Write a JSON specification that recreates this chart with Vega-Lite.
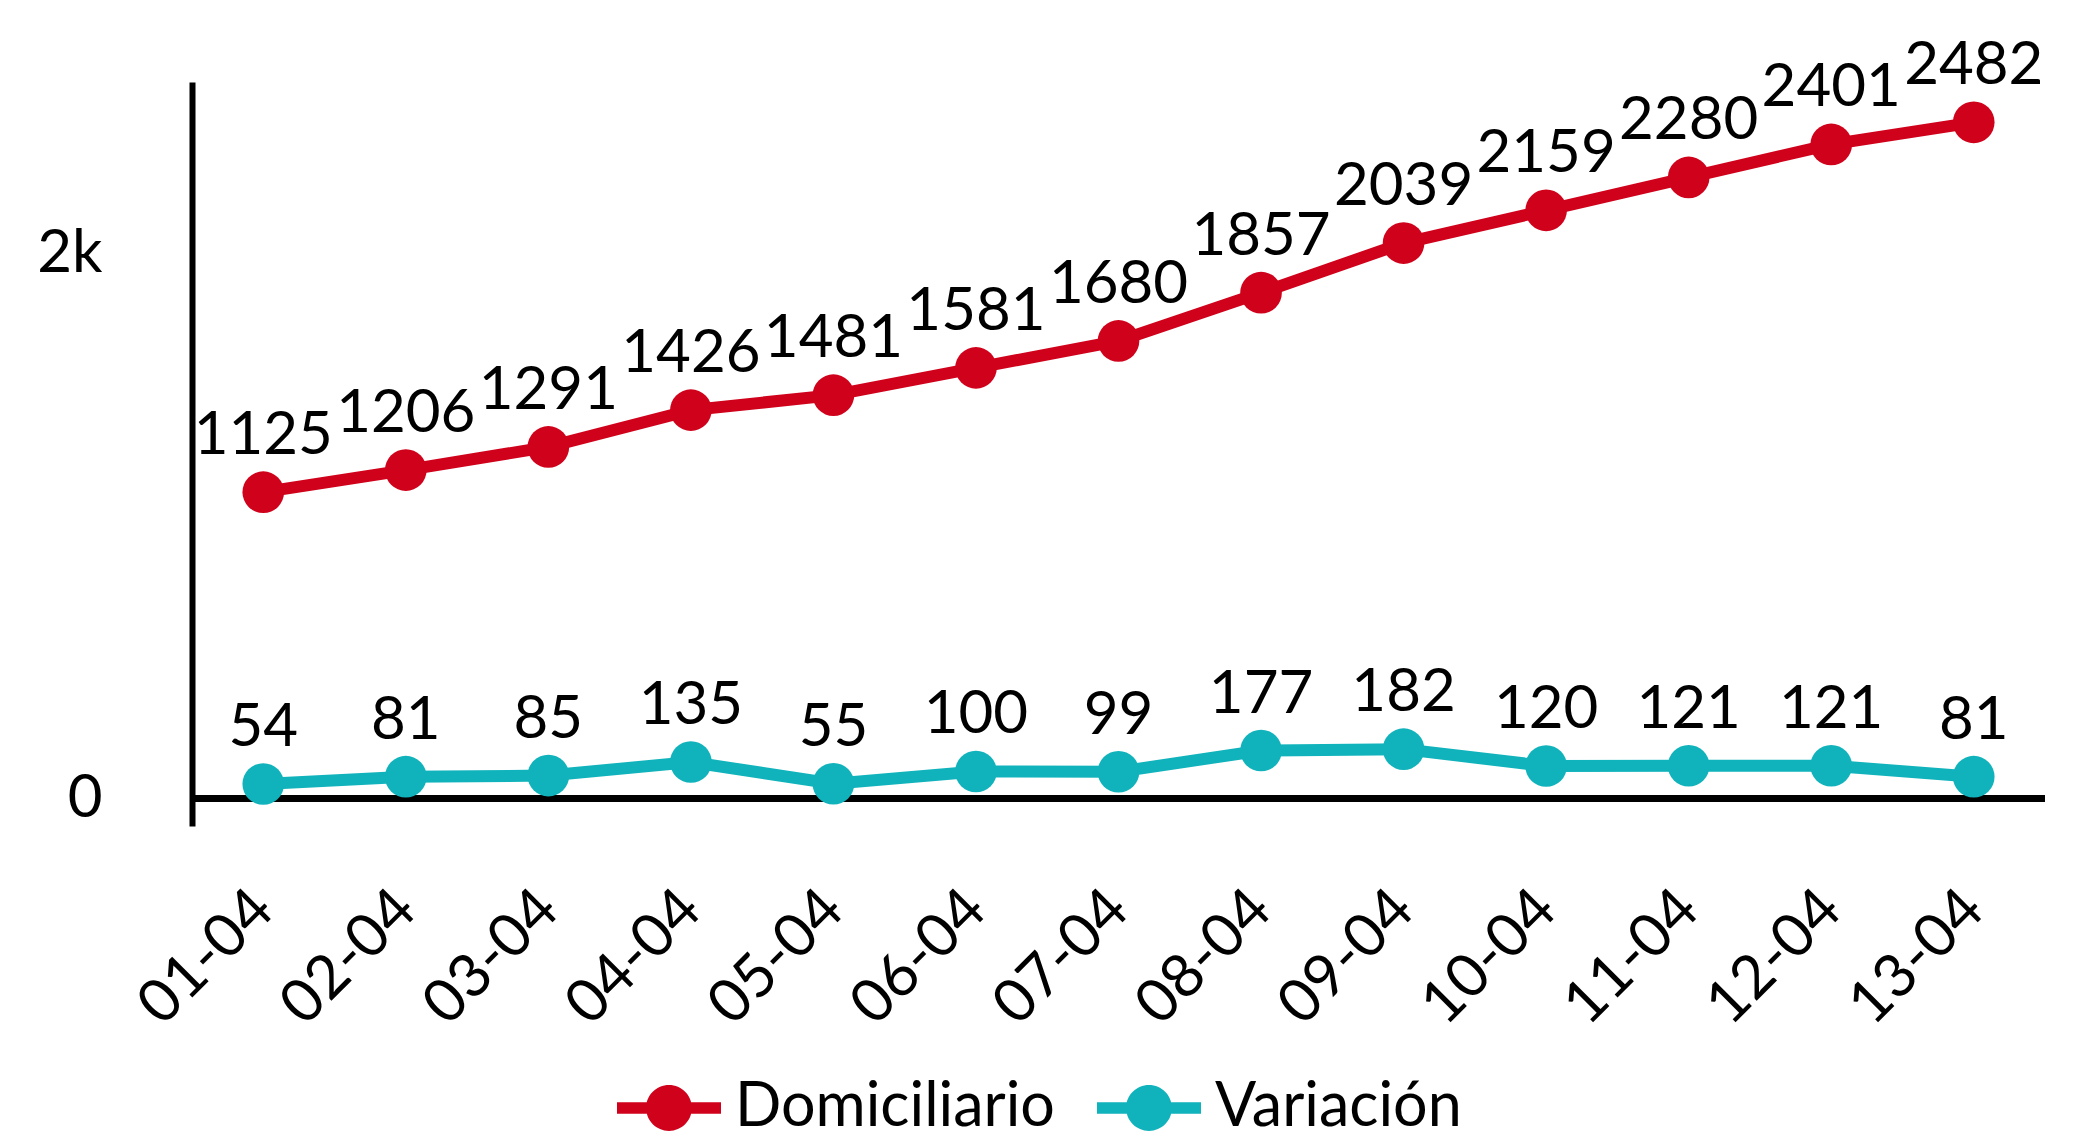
{
  "$schema": "https://vega.github.io/schema/vega-lite/v6.json",
  "autosize": "none",
  "width": 1853,
  "height": 744,
  "padding": {"left": 192, "top": 82, "right": 48, "bottom": 312},
  "background": "white",
  "config": {
    "view": {"stroke": null},
    "font": "Lato",
    "text": {"font": "Lato"}
  },
  "data": {
    "values": [
      {"fecha": "01-04", "serie": "Domiciliario", "valor": 1125},
      {"fecha": "02-04", "serie": "Domiciliario", "valor": 1206},
      {"fecha": "03-04", "serie": "Domiciliario", "valor": 1291},
      {"fecha": "04-04", "serie": "Domiciliario", "valor": 1426},
      {"fecha": "05-04", "serie": "Domiciliario", "valor": 1481},
      {"fecha": "06-04", "serie": "Domiciliario", "valor": 1581},
      {"fecha": "07-04", "serie": "Domiciliario", "valor": 1680},
      {"fecha": "08-04", "serie": "Domiciliario", "valor": 1857},
      {"fecha": "09-04", "serie": "Domiciliario", "valor": 2039},
      {"fecha": "10-04", "serie": "Domiciliario", "valor": 2159},
      {"fecha": "11-04", "serie": "Domiciliario", "valor": 2280},
      {"fecha": "12-04", "serie": "Domiciliario", "valor": 2401},
      {"fecha": "13-04", "serie": "Domiciliario", "valor": 2482},
      {"fecha": "01-04", "serie": "Variación", "valor": 54},
      {"fecha": "02-04", "serie": "Variación", "valor": 81},
      {"fecha": "03-04", "serie": "Variación", "valor": 85},
      {"fecha": "04-04", "serie": "Variación", "valor": 135},
      {"fecha": "05-04", "serie": "Variación", "valor": 55},
      {"fecha": "06-04", "serie": "Variación", "valor": 100},
      {"fecha": "07-04", "serie": "Variación", "valor": 99},
      {"fecha": "08-04", "serie": "Variación", "valor": 177},
      {"fecha": "09-04", "serie": "Variación", "valor": 182},
      {"fecha": "10-04", "serie": "Variación", "valor": 120},
      {"fecha": "11-04", "serie": "Variación", "valor": 121},
      {"fecha": "12-04", "serie": "Variación", "valor": 121},
      {"fecha": "13-04", "serie": "Variación", "valor": 81}
    ]
  },
  "encoding": {
    "x": {
      "field": "fecha",
      "type": "ordinal",
      "scale": {"type": "point", "padding": 0.5},
      "axis": {
        "title": null,
        "domain": false,
        "ticks": false,
        "labelAngle": -45,
        "labelAlign": "right",
        "labelBaseline": "middle",
        "labelPadding": 74,
        "labelFont": "Lato",
        "labelFontSize": 60,
        "labelColor": "black"
      }
    },
    "y": {
      "field": "valor",
      "type": "quantitative",
      "scale": {"domain": [-100, 2630], "nice": false, "zero": false},
      "axis": {
        "title": null,
        "values": [0, 2000],
        "labelExpr": "datum.value == 0 ? '0' : '2k'",
        "grid": false,
        "ticks": false,
        "domain": true,
        "domainColor": "black",
        "domainWidth": 6,
        "labelPadding": 90,
        "labelFont": "Lato",
        "labelFontSize": 60,
        "labelColor": "black",
        "labelBaseline": "middle"
      }
    },
    "color": {
      "field": "serie",
      "type": "nominal",
      "scale": {"domain": ["Domiciliario", "Variación"], "range": ["#d0021b", "#10b3bb"]},
      "legend": {
        "title": null,
        "orient": "none",
        "legendX": 425,
        "legendY": 974,
        "direction": "horizontal",
        "symbolType": "M-1,-0.11H1V0.11H-1Z M-0.44,0A0.44,0.44,0,1,1,0.44,0A0.44,0.44,0,1,1,-0.44,0Z",
        "symbolSize": 10816,
        "symbolStrokeWidth": 0,
        "labelFont": "Lato",
        "labelFontSize": 61,
        "labelColor": "black",
        "labelLimit": 1000,
        "labelOffset": 14,
        "columnPadding": 42,
        "encode": {
          "symbols": {
            "update": {
              "fill": {"scale": "color", "field": "value"},
              "opacity": {"value": 1},
              "strokeWidth": {"value": 0}
            }
          }
        }
      }
    }
  },
  "layer": [
    {
      "mark": {"type": "rule", "color": "black", "strokeWidth": 6},
      "encoding": {"y": {"datum": 0}, "x": null, "color": null}
    },
    {
      "mark": {"type": "line", "strokeWidth": 12}
    },
    {
      "mark": {"type": "point", "filled": true, "opacity": 1, "size": 1735}
    },
    {
      "mark": {"type": "text", "dy": -38, "fontSize": 60, "font": "Lato", "color": "black", "baseline": "alphabetic"},
      "encoding": {"text": {"field": "valor", "type": "quantitative"}, "color": null}
    }
  ]
}
